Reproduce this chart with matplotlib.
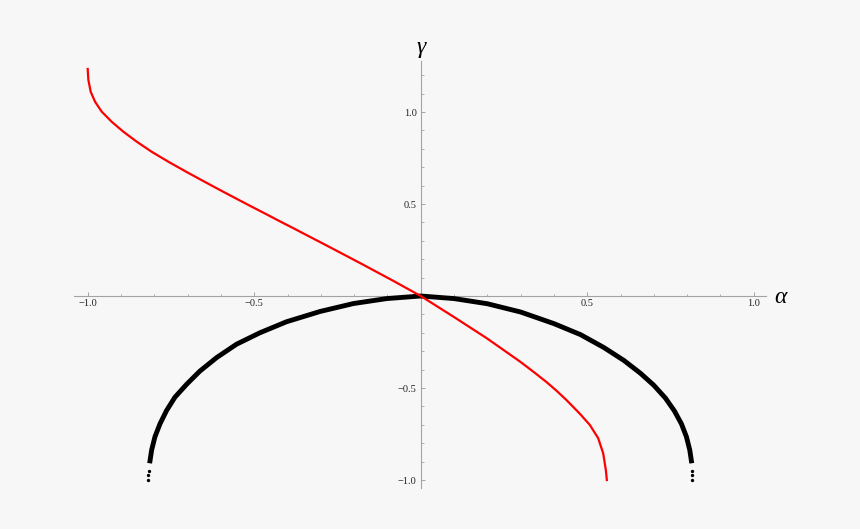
import matplotlib
matplotlib.use("Agg")
import matplotlib.pyplot as plt
from matplotlib.ticker import FixedLocator, FixedFormatter

# ---- data ----
red_alpha = [-1.000, -0.998, -0.991, -0.978, -0.958, -0.928, -0.893, -0.853,
             -0.808, -0.758, -0.703, -0.643, -0.583, -0.523, -0.462, -0.423,
             -0.383, -0.282, -0.182, -0.082, 0.000, 0.098, 0.198, 0.298,
             0.338, 0.378, 0.408, 0.438, 0.478, 0.508, 0.533, 0.548,
             0.556, 0.559]
red_gamma = [1.234, 1.174, 1.110, 1.056, 1.002, 0.947, 0.893, 0.839,
             0.784, 0.730, 0.674, 0.615, 0.557, 0.500, 0.443, 0.406,
             0.369, 0.274, 0.179, 0.082, 0.000, -0.112, -0.229, -0.356,
             -0.411, -0.468, -0.515, -0.566, -0.640, -0.701, -0.773, -0.855,
             -0.946, -1.000]

black_alpha = [-0.814, -0.808, -0.798, -0.783, -0.763, -0.738, -0.703, -0.663,
               -0.613, -0.553, -0.483, -0.403, -0.302, -0.202, -0.102, 0.000,
               0.100, 0.200, 0.300, 0.400, 0.480, 0.550, 0.610, 0.660,
               0.700, 0.735, 0.762, 0.783, 0.798, 0.808, 0.814]
black_gamma = [-0.909, -0.837, -0.765, -0.695, -0.622, -0.550, -0.480, -0.408,
               -0.335, -0.262, -0.200, -0.140, -0.084, -0.041, -0.014, 0.000,
               -0.014, -0.042, -0.087, -0.150, -0.210, -0.280, -0.350, -0.420,
               -0.485, -0.555, -0.625, -0.695, -0.765, -0.837, -0.909]

# separate end dots of the black point set
dots_alpha = [-0.819, -0.818, -0.817, 0.815, 0.815, 0.815]
dots_gamma = [-1.000, -0.973, -0.952, -1.000, -0.973, -0.952]

major_ticks = [-1.0, -0.5, 0.5, 1.0]
x_labels = ["\u22121.0", "\u22120.5", "0.5", "1.0"]
y_labels = ["\u22121.0", "\u22120.5", "0.5", "1.0"]
minor_ticks = [-1.0, -0.9, -0.8, -0.7, -0.6, -0.5, -0.4, -0.3, -0.2, -0.1,
               0.1, 0.2, 0.3, 0.4, 0.5, 0.6, 0.7, 0.8, 0.9, 1.0]
y_minor_ticks = minor_ticks + [1.1, 1.2]

bg = "#f7f7f7"
axis_col = "#a3a3a3"

fig = plt.figure(figsize=(8.6, 5.29), dpi=100, facecolor=bg)
ax = fig.add_axes([0, 0, 1, 1], facecolor=bg)

# pixel mapping: origin at (420.7, 296), 333 px per unit in x, 184 px per unit in y
ax.set_xlim(-420.7 / 333, (860 - 420.7) / 333)
ax.set_ylim(-(529 - 296) / 184, 296 / 184)

for s in ["top", "right"]:
    ax.spines[s].set_visible(False)
ax.spines["left"].set_position(("data", 0))
ax.spines["bottom"].set_position(("data", 0))
ax.spines["bottom"].set_bounds(-1.041, 1.037)
ax.spines["left"].set_bounds(-1.043, 1.277)
for s in ["left", "bottom"]:
    ax.spines[s].set_color(axis_col)
    ax.spines[s].set_linewidth(0.8)
    ax.spines[s].set_zorder(1)

ax.xaxis.set_major_locator(FixedLocator(major_ticks))
ax.xaxis.set_major_formatter(FixedFormatter(x_labels))
ax.yaxis.set_major_locator(FixedLocator(major_ticks))
ax.yaxis.set_major_formatter(FixedFormatter(y_labels))
ax.xaxis.set_minor_locator(FixedLocator(minor_ticks))
ax.yaxis.set_minor_locator(FixedLocator(y_minor_ticks))

ax.tick_params(which="major", direction="in", length=3.0, width=0.7,
               color=axis_col, labelsize=7.5, labelcolor="#222222", pad=2.5)
ax.tick_params(which="minor", direction="in", length=1.8, width=0.6,
               color=axis_col)
ax.tick_params(axis="y", which="major", pad=3.0)
for lbl in ax.get_xticklabels() + ax.get_yticklabels():
    lbl.set_family(["Liberation Serif", "DejaVu Serif"])

# curves
ax.plot(black_alpha, black_gamma, color="black", lw=3.5,
        solid_capstyle="butt", solid_joinstyle="round", zorder=3)
ax.plot(dots_alpha, dots_gamma, linestyle="none", marker="o",
        markersize=2.4, color="black", markeredgewidth=0, zorder=3)
ax.plot(red_alpha, red_gamma, color="#ff0000", lw=1.6,
        solid_joinstyle="round", zorder=4)

# axis labels
ax.text(0.003, 1.35, "\u03b3", ha="center", va="center", fontsize=17,
        fontstyle="italic", family=["Liberation Serif", "DejaVu Serif"])
ax.text(1.08, -0.01, "\u03b1", ha="center", va="center", fontsize=17,
        fontstyle="italic", family=["Liberation Serif", "DejaVu Serif"])

fig.savefig("out.png", dpi=100, facecolor=bg)
